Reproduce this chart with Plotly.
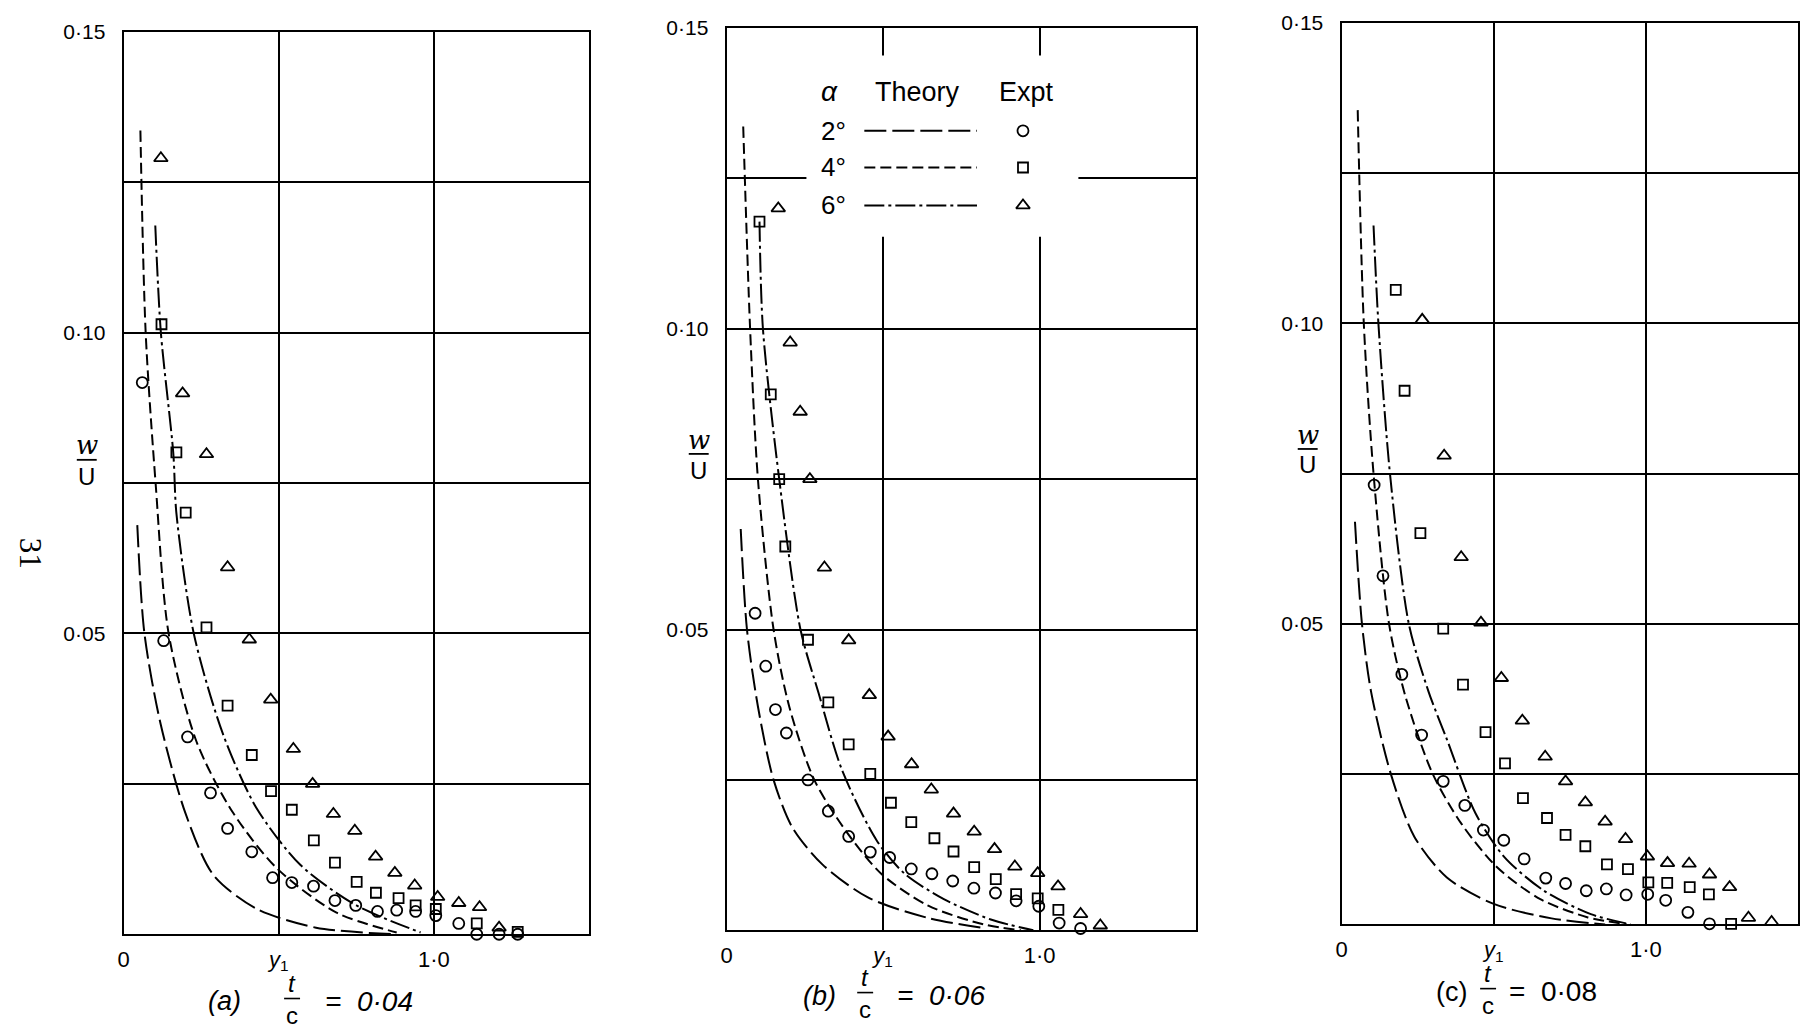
import plotly.graph_objects as go

W, H = 1809, 1034
OFF = 8  # default body margin of the written page

# ---------------- data ----------------
# panel (a)  t/c = 0.04
a_th2_x = [0.044, 0.067, 0.119, 0.200, 0.290, 0.430, 0.620, 0.870]
a_th2_y = [0.068, 0.050, 0.035, 0.020, 0.0098, 0.0042, 0.0011, 0.0]
a_th4_x = [0.054, 0.071, 0.103, 0.145, 0.235, 0.350, 0.493, 0.686, 0.880]
a_th4_y = [0.1336, 0.100, 0.075, 0.050, 0.032, 0.0204, 0.011, 0.0036, 0.0003]
a_th6_x = [0.102, 0.120, 0.160, 0.170, 0.226, 0.320, 0.428, 0.570, 0.750, 0.957]
a_th6_y = [0.1178, 0.100, 0.080, 0.070, 0.050, 0.0333, 0.021, 0.0115, 0.0048, 0.0003]
a_c_x = [0.060, 0.129, 0.206, 0.280, 0.335, 0.413, 0.480, 0.542, 0.612, 0.681, 0.748, 0.818,
         0.880, 0.941, 1.006, 1.080, 1.138, 1.210, 1.270]
a_c_y = [0.0917, 0.0488, 0.0328, 0.0235, 0.0176, 0.0137, 0.0094, 0.0086, 0.0080, 0.0056, 0.0048,
         0.0038, 0.0040, 0.0038, 0.0031, 0.0018, 0.0, 0.0, 0.0]
a_s_x = [0.122, 0.170, 0.200, 0.267, 0.335, 0.413, 0.475, 0.542, 0.613, 0.681, 0.751, 0.813,
         0.886, 0.941, 1.006, 1.138, 1.270]
a_s_y = [0.1014, 0.0801, 0.0701, 0.051, 0.038, 0.0298, 0.0238, 0.0207, 0.0156, 0.0119, 0.0087,
         0.0069, 0.0060, 0.0048, 0.0042, 0.0018, 0.0004]
a_t_x = [0.120, 0.190, 0.267, 0.335, 0.405, 0.474, 0.547, 0.609, 0.676, 0.745, 0.812, 0.874,
         0.938, 1.012, 1.080, 1.147, 1.210]
a_t_y = [0.129, 0.0899, 0.0798, 0.061, 0.049, 0.039, 0.0308, 0.025, 0.020, 0.0172, 0.0129,
         0.0102, 0.0081, 0.0062, 0.0052, 0.0045, 0.0011]

# panel (b)  t/c = 0.06
b_th2_x = [0.045, 0.065, 0.100, 0.150, 0.210, 0.305, 0.450, 0.640, 0.830]
b_th2_y = [0.0667, 0.050, 0.0372, 0.025, 0.0171, 0.011, 0.0055, 0.0021, 0.0003]
b_th4_x = [0.053, 0.075, 0.100, 0.150, 0.200, 0.280, 0.380, 0.494, 0.644, 0.820, 0.940]
b_th4_y = [0.1336, 0.100, 0.075, 0.050, 0.0372, 0.025, 0.0166, 0.0094, 0.0041, 0.001, 0.0]
b_th6_x = [0.105, 0.116, 0.168, 0.236, 0.294, 0.369, 0.480, 0.569, 0.694, 0.844, 0.980]
b_th6_y = [0.1178, 0.100, 0.075, 0.050, 0.0394, 0.0266, 0.0149, 0.0094, 0.0052, 0.0018, 0.0]
b_c_x = [0.091, 0.125, 0.156, 0.191, 0.260, 0.325, 0.390, 0.459, 0.521, 0.590, 0.656, 0.7225,
         0.790, 0.859, 0.925, 0.9975, 1.0625, 1.131]
b_c_y = [0.0527, 0.0439, 0.0367, 0.0328, 0.025, 0.0198, 0.0156, 0.013, 0.0121, 0.0102, 0.0094,
         0.0082, 0.007, 0.0062, 0.0049, 0.004, 0.0012, 0.0003]
b_s_x = [0.105, 0.141, 0.168, 0.1875, 0.260, 0.325, 0.390, 0.459, 0.525, 0.590, 0.664, 0.725,
         0.791, 0.860, 0.925, 0.994, 1.060]
b_s_y = [0.1178, 0.0891, 0.075, 0.0638, 0.0483, 0.0379, 0.0309, 0.026, 0.0212, 0.018, 0.0153,
         0.0131, 0.0105, 0.0085, 0.006, 0.0053, 0.0034]
b_t_x = [0.165, 0.203, 0.235, 0.266, 0.3125, 0.390, 0.456, 0.516, 0.591, 0.654, 0.725, 0.791,
         0.856, 0.921, 0.994, 1.059, 1.131, 1.194]
b_t_y = [0.120, 0.0977, 0.0862, 0.075, 0.0603, 0.0482, 0.0391, 0.0322, 0.0276, 0.0234, 0.0194,
         0.0164, 0.0135, 0.0106, 0.0095, 0.0073, 0.0027, 0.0008]

# panel (c)  t/c = 0.08
c_th2_x = [0.044, 0.067, 0.097, 0.162, 0.239, 0.346, 0.500, 0.690, 0.866]
c_th2_y = [0.067, 0.050, 0.0387, 0.025, 0.0146, 0.0078, 0.0034, 0.001, 0.0]
c_th4_x = [0.053, 0.073, 0.105, 0.156, 0.209, 0.298, 0.393, 0.511, 0.653, 0.807, 0.937]
c_th4_y = [0.1355, 0.100, 0.075, 0.050, 0.0381, 0.0252, 0.0168, 0.0095, 0.0042, 0.0012, 0.0]
c_th6_x = [0.105, 0.121, 0.159, 0.221, 0.286, 0.346, 0.440, 0.535, 0.665, 0.819, 0.950]
c_th6_y = [0.1163, 0.100, 0.075, 0.050, 0.0387, 0.0308, 0.0185, 0.0112, 0.0056, 0.0017, 0.0]
c_c_x = [0.107, 0.136, 0.198, 0.263, 0.334, 0.405, 0.466, 0.533, 0.600, 0.671, 0.736, 0.804,
         0.870, 0.935, 1.006, 1.065, 1.138, 1.209]
c_c_y = [0.0731, 0.058, 0.0416, 0.0315, 0.0238, 0.0198, 0.0157, 0.014, 0.0109, 0.0077, 0.0068,
         0.0056, 0.0059, 0.0049, 0.005, 0.004, 0.002, 0.0001]
c_s_x = [0.178, 0.207, 0.259, 0.334, 0.399, 0.473, 0.537, 0.596, 0.675, 0.736, 0.801, 0.872,
         0.941, 1.008, 1.070, 1.144, 1.207, 1.280]
c_s_y = [0.1056, 0.0888, 0.0651, 0.0492, 0.0399, 0.032, 0.0268, 0.021, 0.0177, 0.0149, 0.013,
         0.010, 0.0092, 0.007, 0.0069, 0.0062, 0.005, 0.0001]
c_t_x = [0.265, 0.337, 0.393, 0.458, 0.525, 0.594, 0.669, 0.736, 0.801, 0.866, 0.933, 1.005,
         1.071, 1.142, 1.209, 1.275, 1.337, 1.413]
c_t_y = [0.1006, 0.078, 0.0611, 0.0502, 0.041, 0.0339, 0.0279, 0.0238, 0.0203, 0.0171, 0.0142,
         0.0113, 0.0102, 0.0101, 0.0083, 0.0062, 0.0011, 0.0004]

alphas = ["2°", "4°", "6°"]
captions = [("(a)", "0·04"), ("(b)", "0·06"), ("(c)", "0·08")]
x_ticks = [0, 0.5, 1.0]
x_tick_text = ["0", "<i>y</i><sub>1</sub>", "1·0"]
y_ticks = [0.05, 0.10, 0.15]
y_tick_text = ["0·05", "0·10", "0·15"]
y_minor_grid = [0.025, 0.075, 0.125]

# ---------------- style ----------------
FONT = "Liberation Sans"
INK = "black"
DASH = {"2°": "22px,6px", "4°": "11px,5px", "6°": "20px,4px,3px,4px"}
SYMBOL = {"2°": "circle-open", "4°": "square-open", "6°": "triangle-up-open"}
MSIZE = {"2°": 11, "4°": 10, "6°": 12}

panels = [
    dict(th={"2°": (a_th2_x, a_th2_y), "4°": (a_th4_x, a_th4_y), "6°": (a_th6_x, a_th6_y)},
         ex={"2°": (a_c_x, a_c_y), "4°": (a_s_x, a_s_y), "6°": (a_t_x, a_t_y)}),
    dict(th={"2°": (b_th2_x, b_th2_y), "4°": (b_th4_x, b_th4_y), "6°": (b_th6_x, b_th6_y)},
         ex={"2°": (b_c_x, b_c_y), "4°": (b_s_x, b_s_y), "6°": (b_t_x, b_t_y)}),
    dict(th={"2°": (c_th2_x, c_th2_y), "4°": (c_th4_x, c_th4_y), "6°": (c_th6_x, c_th6_y)},
         ex={"2°": (c_c_x, c_c_y), "4°": (c_s_x, c_s_y), "6°": (c_t_x, c_t_y)}),
]

# screen-pixel frames of the three panels: (left, right, top, bottom)
frames = [(118, 585, 20, 933), (723, 1194, 16, 929), (1340, 1798, 11, 923)]


def fx(px):
    return (px - OFF) / W


def fy(py):
    return 1 - (py - OFF) / H


fig = go.Figure()

for i, p in enumerate(panels):
    sx = "" if i == 0 else str(i + 1)
    for a in alphas:
        xs, ys = p["th"][a]
        fig.add_trace(go.Scatter(x=xs, y=ys, mode="lines", xaxis="x" + sx, yaxis="y" + sx,
                                 line=dict(color=INK, width=2.0, dash=DASH[a], shape="spline",
                                           smoothing=0.8),
                                 showlegend=False, hoverinfo="skip"))
    for a in alphas:
        xs, ys = p["ex"][a]
        fig.add_trace(go.Scatter(x=xs, y=ys, mode="markers", xaxis="x" + sx, yaxis="y" + sx,
                                 marker=dict(symbol=SYMBOL[a], size=MSIZE[a], color=INK,
                                             line=dict(color=INK, width=1.8)),
                                 cliponaxis=False, showlegend=False, hoverinfo="skip"))

layout = dict(width=W, height=H, autosize=False, margin=dict(l=0, r=0, t=0, b=0),
              paper_bgcolor="white", plot_bgcolor="white",
              font=dict(family=FONT, color=INK, size=20))

for i, (l, r, t, b) in enumerate(frames):
    sx = "" if i == 0 else str(i + 1)
    layout["xaxis" + sx] = dict(domain=[fx(l), fx(r)], range=[0, 1.5], anchor="y" + sx,
                                showline=True, mirror=True, linecolor=INK, linewidth=2.2,
                                showgrid=True, gridcolor=INK, gridwidth=1.6, zeroline=False,
                                tickvals=x_ticks, ticktext=x_tick_text, ticks="",
                                ticklabelstandoff=4,
                                tickfont=dict(size=22, family=FONT), fixedrange=True)
    layout["yaxis" + sx] = dict(domain=[fy(b), fy(t)], range=[0, 0.15], anchor="x" + sx,
                                showline=True, mirror=True, linecolor=INK, linewidth=2.2,
                                showgrid=True, gridcolor=INK, gridwidth=1.6, zeroline=False,
                                tickvals=y_ticks, ticktext=y_tick_text, ticks="",
                                ticklabelstandoff=12,
                                minor=dict(tickvals=y_minor_grid, showgrid=True, gridcolor=INK,
                                           gridwidth=1.6, ticks=""),
                                tickfont=dict(size=21, family=FONT), fixedrange=True)

annotations = []
shapes = []


def pxa(x, y, text, size=20, italic=False, angle=0, family=FONT):
    txt = "<i>%s</i>" % text if italic else text
    annotations.append(dict(x=fx(x), y=fy(y), xref="paper", yref="paper", text=txt,
                            showarrow=False, textangle=angle, xanchor="center", yanchor="middle",
                            font=dict(size=size, family=family, color=INK)))


def pline(x0, y0, x1, y1, w=1.6):
    shapes.append(dict(type="line", xref="paper", yref="paper", x0=fx(x0), x1=fx(x1),
                       y0=fy(y0), y1=fy(y1), line=dict(color=INK, width=w)))


# y-axis labels  w / U
for (xc, yw, ybar, yu) in [(81, 438, 453, 470), (695, 433, 447, 464), (1306, 428, 442, 458)]:
    pxa(xc, yw, "w", size=26, italic=True, family="DejaVu Serif")
    pline(xc - 10, ybar, xc + 10, ybar, w=1.8)
    pxa(xc, yu, "U", size=24)

# captions  (a)  t/c = 0.04 ...
cap_pos = [(219, 287, 364, 1001), (816, 862, 938, 995), (1450, 1487, 1552, 991)]
for i, ((lab, val), (xl, xf, xv, yc)) in enumerate(zip(captions, cap_pos)):
    ital = i < 2
    pxa(xl, yc, lab, size=27, italic=ital)
    pxa(xf, yc - 18, "t", size=24, italic=True)
    pline(xf - 8, yc - 3, xf + 8, yc - 3, w=1.6)
    pxa(xf, yc + 14, "c", size=24)
    pxa(xv, yc, "=  " + val, size=28, italic=ital)

# page number
pxa(24, 548, "31", size=31, angle=90, family="Liberation Serif")

# legend inside panel (b): white patch over the grid, then text, samples
shapes.append(dict(type="rect", xref="x2", yref="y2", x0=0.255, x1=1.124, y0=0.1153, y1=0.1454,
                   fillcolor="white", line=dict(width=0), layer="between"))
leg_rows_y = [0.1329, 0.1268, 0.1205]
for txt, lx in [("α", 0.329), ("Theory", 0.609), ("Expt", 0.957)]:
    annotations.append(dict(x=lx, y=0.1394, xref="x2", yref="y2", showarrow=False,
                            text="<i>α</i>" if txt == "α" else txt,
                            font=dict(size=28 if txt == "α" else 27, family=FONT, color=INK)))
for a, ly in zip(alphas, leg_rows_y):
    annotations.append(dict(x=0.342, y=ly, xref="x2", yref="y2", showarrow=False, text=a,
                            font=dict(size=26, family=FONT, color=INK)))
    fig.add_trace(go.Scatter(x=[0.44, 0.80], y=[ly, ly], mode="lines", xaxis="x2", yaxis="y2",
                             line=dict(color=INK, width=2.0, dash=DASH[a]),
                             showlegend=False, hoverinfo="skip"))
    fig.add_trace(go.Scatter(x=[0.947], y=[ly], mode="markers", xaxis="x2", yaxis="y2",
                             marker=dict(symbol=SYMBOL[a], size=MSIZE[a], color=INK,
                                         line=dict(color=INK, width=1.8)),
                             showlegend=False, hoverinfo="skip"))

layout["annotations"] = annotations
layout["shapes"] = shapes
fig.update_layout(**layout)
fig.write_html("out.html")
